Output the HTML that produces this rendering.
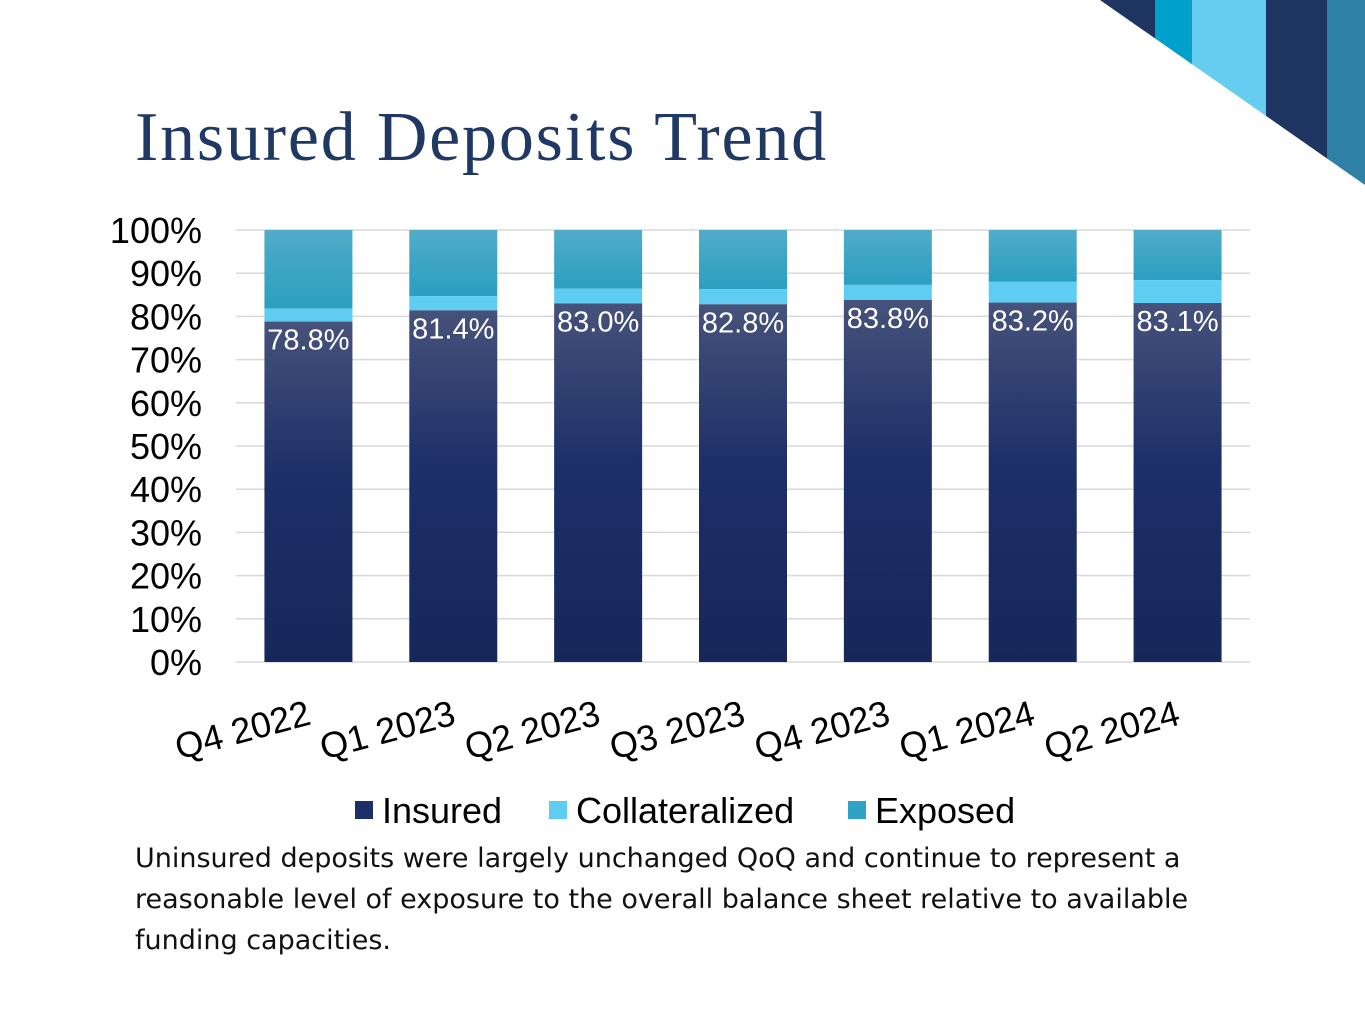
<!DOCTYPE html>
<html><head><meta charset="utf-8"><style>
body{margin:0;width:1365px;height:1024px;background:#fff;overflow:hidden;position:relative;font-family:"Liberation Sans",sans-serif}
#title{position:absolute;left:135px;top:98px;font-family:"Liberation Serif",serif;font-size:70px;letter-spacing:1.8px;color:#1f3864;margin:0;font-weight:normal}
#note{position:absolute;left:135px;top:838px;width:1085px;font-family:"DejaVu Sans",sans-serif;font-size:27px;line-height:41px;color:#111}
svg{position:absolute;left:0;top:0}
</style></head><body>
<svg width="1365" height="1024">
<defs><clipPath id="tri"><polygon points="1100,0 1365,0 1365,185"/></clipPath>
<linearGradient id="gI" x1="0" y1="0" x2="0" y2="1"><stop offset="0" stop-color="#46527a"/><stop offset="0.45" stop-color="#1d2f68"/><stop offset="1" stop-color="#17275a"/></linearGradient>
<linearGradient id="gE" x1="0" y1="0" x2="0" y2="1"><stop offset="0" stop-color="#52acc9"/><stop offset="1" stop-color="#2a9fc0"/></linearGradient>
</defs>
<g clip-path="url(#tri)">
<rect x="1100" y="0" width="55" height="190" fill="#1e3461"/>
<rect x="1155" y="0" width="37" height="190" fill="#00a0cc"/>
<rect x="1192" y="0" width="74" height="190" fill="#66ccf0"/>
<rect x="1266" y="0" width="61" height="190" fill="#1e3461"/>
<rect x="1327" y="0" width="38" height="190" fill="#2e80a6"/>
</g>
</svg>
<h1 id="title">Insured Deposits Trend</h1>
<svg id="chart" width="1365" height="1024"></svg>
<div id="note">Uninsured deposits were largely unchanged QoQ and continue to represent a reasonable level of exposure to the overall balance sheet relative to available funding capacities.</div>
<script>
const categories=["Q4 2022","Q1 2023","Q2 2023","Q3 2023","Q4 2023","Q1 2024","Q2 2024"];
const insured=[78.8,81.4,83.0,82.8,83.8,83.2,83.1];
const collateralized=[3.0,3.3,3.4,3.5,3.5,4.8,5.3];
const labels=["78.8%","81.4%","83.0%","82.8%","83.8%","83.2%","83.1%"];
const yTicks=[0,10,20,30,40,50,60,70,80,90,100];
const NS="http://www.w3.org/2000/svg";
const svg=document.getElementById('chart');
const x0=236,x1=1250,yB=662,yT=230,bw=88;
const step=(x1-x0)/categories.length;
const y=v=>yB-(v/100)*(yB-yT);
const cx=i=>x0+step*(i+0.5);
function mk(t,a){const e=document.createElementNS(NS,t);for(const k in a)e.setAttribute(k,a[k]);svg.appendChild(e);return e;}
yTicks.forEach(t=>{
 const l=mk('line',{x1:x0,x2:x1,y1:y(t),y2:y(t),stroke:'#d9d9d9','stroke-width':1.5});
 
 
 const tx=mk('text',{x:202,y:y(t)+13,'text-anchor':'end','font-size':36,fill:'#000'});tx.textContent=t+'%';
 
 
});
categories.forEach((c,i)=>{
 const L=cx(i)-bw/2;
 const e=mk('rect',{x:L,y:y(100),width:bw,height:y(insured[i]+collateralized[i])-y(100),fill:'url(#gE)'});
 
 
 const co=mk('rect',{x:L,y:y(insured[i]+collateralized[i]),width:bw,height:y(insured[i])-y(insured[i]+collateralized[i]),fill:'#5fcdf2'});
 
 
 const ins=mk('rect',{x:L,y:y(insured[i]),width:bw,height:yB-y(insured[i]),fill:'url(#gI)'});
 
 
 const lb=mk('text',{x:cx(i),y:y(insured[i])+28,'text-anchor':'middle','font-size':29,fill:'#fff'});lb.textContent=labels[i];
 
 
 const xl=mk('text',{x:cx(i)+4,y:724,'text-anchor':'end','font-size':36,fill:'#000',transform:`rotate(-15 ${cx(i)+4} 724)`});xl.textContent=c;
 
 
});
const leg=[["Insured","#1d2f68",355],["Collateralized","#5fcdf2",549],["Exposed","#2ea3c4",848]];
leg.forEach(([n,col,lx])=>{
 const r=mk('rect',{x:lx,y:801,width:18,height:18,fill:col});
 
 
 const t=mk('text',{x:lx+27,y:823,'font-size':36,fill:'#000'});t.textContent=n;
 
 
});
</script>
</body></html>
